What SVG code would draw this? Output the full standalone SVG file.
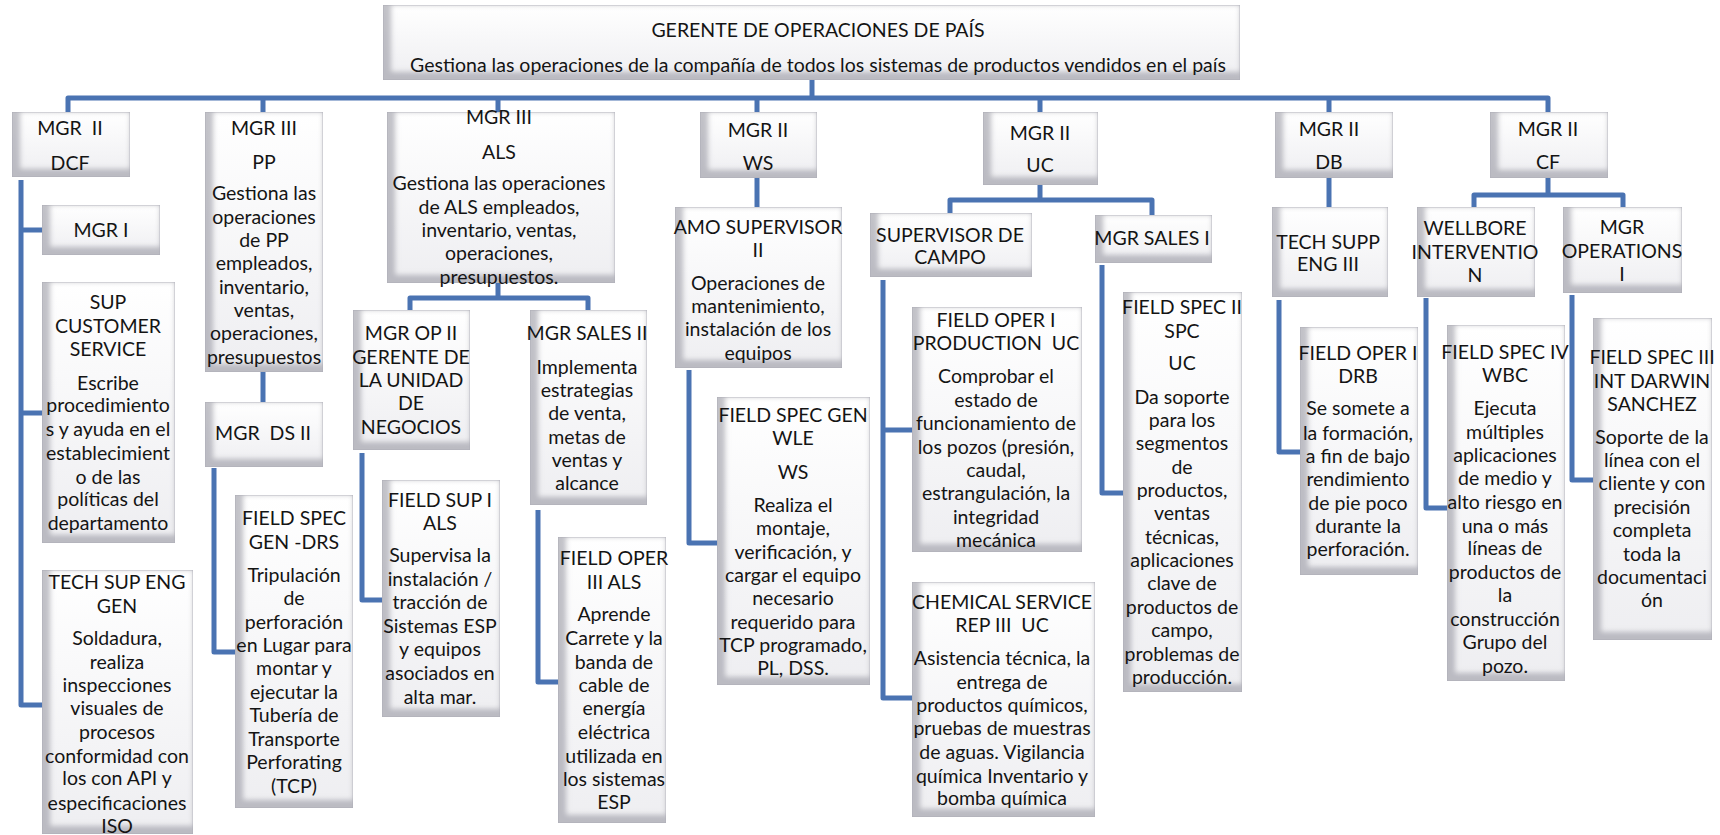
<svg xmlns="http://www.w3.org/2000/svg" width="1720" height="835" viewBox="0 0 1720 835">
  <defs>
    <linearGradient id="face" x1="0" y1="0" x2="0" y2="1">
      <stop offset="0" stop-color="#ffffff"/>
      <stop offset="1" stop-color="#eeeef1"/>
    </linearGradient>
    <!-- soft bevel: grey shading along the left and bottom inner edges -->
    <filter id="bevel" x="0" y="0" width="1" height="1">
      <feOffset in="SourceAlpha" dx="9" dy="-9" result="shift"/>
      <feGaussianBlur in="shift" stdDeviation="2.5" result="soft"/>
      <feComposite in="SourceAlpha" in2="soft" operator="out" result="edge"/>
      <feFlood flood-color="#9d9da8" flood-opacity="0.7"/>
      <feComposite in2="edge" operator="in" result="shade"/>
      <feMerge>
        <feMergeNode in="SourceGraphic"/>
        <feMergeNode in="shade"/>
      </feMerge>
    </filter>
    <style>
      .box { fill: url(#face); stroke: #d2d2d8; stroke-width: 1.2; filter: url(#bevel); }
      .lbl { font-family: Lato, "Liberation Sans", sans-serif; font-size: 19.5px; fill: #141414; text-anchor: middle; }
      .wire { fill: none; stroke: #4a73b2; stroke-width: 5; stroke-linejoin: round; }
    </style>
  </defs>

  <rect width="1720" height="835" fill="#ffffff"/>

  <g id="connectors">
    <path class="wire" d="M812 80V98"/>
    <path class="wire" d="M68 112V98H1548V112"/>
    <path class="wire" d="M263 98V112M498 98V112M757 98V112M1040 98V112M1329 98V112"/>
    <path class="wire" d="M21 180V705H42M21 230H42M21 413H42"/>
    <path class="wire" d="M263 372V402"/>
    <path class="wire" d="M214 468V652H235"/>
    <path class="wire" d="M498 283V298M410 310V298H588V310"/>
    <path class="wire" d="M362 453V600H382"/>
    <path class="wire" d="M538 510V682H558"/>
    <path class="wire" d="M757 178V207"/>
    <path class="wire" d="M689 370V543H717"/>
    <path class="wire" d="M1040 185V200M950 213V200H1152V215"/>
    <path class="wire" d="M883 280V698H912M883 430H912"/>
    <path class="wire" d="M1102 265V493H1123"/>
    <path class="wire" d="M1329 178V207"/>
    <path class="wire" d="M1279 300V452H1300"/>
    <path class="wire" d="M1548 178V195M1474 207V195H1623V207"/>
    <path class="wire" d="M1426 298V508H1447"/>
    <path class="wire" d="M1572 295V480H1593"/>
  </g>

  <g id="nodes">
    <g id="n-country">
      <rect class="box" x="383" y="5" width="857" height="75"/>
      <text class="lbl"><tspan x="818" y="37">GERENTE DE OPERACIONES DE PAÍS</tspan><tspan x="818" y="72">Gestiona las operaciones de la compañía de todos los sistemas de productos vendidos en el país</tspan></text>
    </g>

    <g id="n-dcf">
      <rect class="box" x="12" y="112" width="118" height="65"/>
      <text class="lbl"><tspan x="70" y="135">MGR&#160; II</tspan><tspan x="70" y="170">DCF</tspan></text>
    </g>
    <g id="n-mgr1">
      <rect class="box" x="42" y="205" width="118" height="50"/>
      <text class="lbl"><tspan x="101" y="237">MGR I</tspan></text>
    </g>
    <g id="n-supcs">
      <rect class="box" x="42" y="282" width="133" height="261"/>
      <text class="lbl"><tspan x="108" y="309">SUP</tspan><tspan x="108" y="333">CUSTOMER</tspan><tspan x="108" y="356">SERVICE</tspan><tspan x="108" y="390">Escribe</tspan><tspan x="108" y="412">procedimiento</tspan><tspan x="108" y="436">s y ayuda en el</tspan><tspan x="108" y="460">establecimient</tspan><tspan x="108" y="484">o de las</tspan><tspan x="108" y="506">políticas del</tspan><tspan x="108" y="530">departamento</tspan></text>
    </g>
    <g id="n-techsup">
      <rect class="box" x="42" y="570" width="151" height="264"/>
      <text class="lbl"><tspan x="117" y="589">TECH SUP ENG</tspan><tspan x="117" y="613">GEN</tspan><tspan x="117" y="645">Soldadura,</tspan><tspan x="117" y="669">realiza</tspan><tspan x="117" y="692">inspecciones</tspan><tspan x="117" y="715">visuales de</tspan><tspan x="117" y="739">procesos</tspan><tspan x="117" y="763">conformidad con</tspan><tspan x="117" y="785">los con API y</tspan><tspan x="117" y="810">especificaciones</tspan><tspan x="117" y="833">ISO</tspan></text>
    </g>

    <g id="n-pp">
      <rect class="box" x="205" y="112" width="118" height="260"/>
      <text class="lbl"><tspan x="264" y="135">MGR III</tspan><tspan x="264" y="169">PP</tspan><tspan x="264" y="200">Gestiona las</tspan><tspan x="264" y="224">operaciones</tspan><tspan x="264" y="247">de PP</tspan><tspan x="264" y="270">empleados,</tspan><tspan x="264" y="294">inventario,</tspan><tspan x="264" y="317">ventas,</tspan><tspan x="264" y="340">operaciones,</tspan><tspan x="264" y="364">presupuestos</tspan></text>
    </g>
    <g id="n-ds">
      <rect class="box" x="205" y="402" width="118" height="65"/>
      <text class="lbl"><tspan x="263" y="440">MGR&#160; DS II</tspan></text>
    </g>
    <g id="n-drs">
      <rect class="box" x="235" y="495" width="118" height="313"/>
      <text class="lbl"><tspan x="294" y="525">FIELD SPEC</tspan><tspan x="294" y="549">GEN -DRS</tspan><tspan x="294" y="582">Tripulación</tspan><tspan x="294" y="605">de</tspan><tspan x="294" y="629">perforación</tspan><tspan x="294" y="652">en Lugar para</tspan><tspan x="294" y="675">montar y</tspan><tspan x="294" y="699">ejecutar la</tspan><tspan x="294" y="722">Tubería de</tspan><tspan x="294" y="746">Transporte</tspan><tspan x="294" y="769">Perforating</tspan><tspan x="294" y="793">(TCP)</tspan></text>
    </g>

    <g id="n-als">
      <rect class="box" x="387" y="112" width="228" height="171"/>
      <text class="lbl"><tspan x="499" y="124">MGR III</tspan><tspan x="499" y="159">ALS</tspan><tspan x="499" y="190">Gestiona las operaciones</tspan><tspan x="499" y="214">de ALS empleados,</tspan><tspan x="499" y="237">inventario, ventas,</tspan><tspan x="499" y="260">operaciones,</tspan><tspan x="499" y="284">presupuestos.</tspan></text>
    </g>
    <g id="n-opii">
      <rect class="box" x="353" y="310" width="117" height="140"/>
      <text class="lbl"><tspan x="411" y="340">MGR OP II</tspan><tspan x="411" y="364">GERENTE DE</tspan><tspan x="411" y="387">LA UNIDAD</tspan><tspan x="411" y="410">DE</tspan><tspan x="411" y="434">NEGOCIOS</tspan></text>
    </g>
    <g id="n-salesii">
      <rect class="box" x="530" y="310" width="117" height="195"/>
      <text class="lbl"><tspan x="587" y="340">MGR SALES II</tspan><tspan x="587" y="374">Implementa</tspan><tspan x="587" y="397">estrategias</tspan><tspan x="587" y="420">de venta,</tspan><tspan x="587" y="444">metas de</tspan><tspan x="587" y="467">ventas y</tspan><tspan x="587" y="490">alcance</tspan></text>
    </g>
    <g id="n-fsup">
      <rect class="box" x="382" y="480" width="118" height="237"/>
      <text class="lbl"><tspan x="440" y="507">FIELD SUP I</tspan><tspan x="440" y="530">ALS</tspan><tspan x="440" y="562">Supervisa la</tspan><tspan x="440" y="586">instalación /</tspan><tspan x="440" y="609">tracción de</tspan><tspan x="440" y="633">Sistemas ESP</tspan><tspan x="440" y="656">y equipos</tspan><tspan x="440" y="680">asociados en</tspan><tspan x="440" y="704">alta mar.</tspan></text>
    </g>
    <g id="n-foper3">
      <rect class="box" x="558" y="537" width="108" height="286"/>
      <text class="lbl"><tspan x="614" y="565">FIELD OPER</tspan><tspan x="614" y="589">III ALS</tspan><tspan x="614" y="621">Aprende</tspan><tspan x="614" y="645">Carrete y la</tspan><tspan x="614" y="669">banda de</tspan><tspan x="614" y="692">cable de</tspan><tspan x="614" y="715">energía</tspan><tspan x="614" y="739">eléctrica</tspan><tspan x="614" y="763">utilizada en</tspan><tspan x="614" y="786">los sistemas</tspan><tspan x="614" y="809">ESP</tspan></text>
    </g>

    <g id="n-ws">
      <rect class="box" x="700" y="112" width="117" height="66"/>
      <text class="lbl"><tspan x="758" y="137">MGR II</tspan><tspan x="758" y="170">WS</tspan></text>
    </g>
    <g id="n-amo">
      <rect class="box" x="675" y="207" width="167" height="161"/>
      <text class="lbl"><tspan x="758" y="234">AMO SUPERVISOR</tspan><tspan x="758" y="257">II</tspan><tspan x="758" y="290">Operaciones de</tspan><tspan x="758" y="313">mantenimiento,</tspan><tspan x="758" y="336">instalación de los</tspan><tspan x="758" y="360">equipos</tspan></text>
    </g>
    <g id="n-wle">
      <rect class="box" x="717" y="397" width="153" height="288"/>
      <text class="lbl"><tspan x="793" y="422">FIELD SPEC GEN</tspan><tspan x="793" y="445">WLE</tspan><tspan x="793" y="479">WS</tspan><tspan x="793" y="512">Realiza el</tspan><tspan x="793" y="535">montaje,</tspan><tspan x="793" y="559">verificación, y</tspan><tspan x="793" y="582">cargar el equipo</tspan><tspan x="793" y="605">necesario</tspan><tspan x="793" y="629">requerido para</tspan><tspan x="793" y="652">TCP programado,</tspan><tspan x="793" y="675">PL, DSS.</tspan></text>
    </g>

    <g id="n-uc">
      <rect class="box" x="983" y="112" width="115" height="73"/>
      <text class="lbl"><tspan x="1040" y="140">MGR II</tspan><tspan x="1040" y="172">UC</tspan></text>
    </g>
    <g id="n-campo">
      <rect class="box" x="870" y="213" width="162" height="64"/>
      <text class="lbl"><tspan x="950" y="242">SUPERVISOR DE</tspan><tspan x="950" y="264">CAMPO</tspan></text>
    </g>
    <g id="n-sales1">
      <rect class="box" x="1095" y="215" width="117" height="48"/>
      <text class="lbl"><tspan x="1152" y="245">MGR SALES I</tspan></text>
    </g>
    <g id="n-foper1">
      <rect class="box" x="912" y="307" width="170" height="245"/>
      <text class="lbl"><tspan x="996" y="327">FIELD OPER I</tspan><tspan x="996" y="350">PRODUCTION&#160; UC</tspan><tspan x="996" y="383">Comprobar el</tspan><tspan x="996" y="407">estado de</tspan><tspan x="996" y="430">funcionamiento de</tspan><tspan x="996" y="454">los pozos (presión,</tspan><tspan x="996" y="477">caudal,</tspan><tspan x="996" y="500">estrangulación, la</tspan><tspan x="996" y="524">integridad</tspan><tspan x="996" y="547">mecánica</tspan></text>
    </g>
    <g id="n-chem">
      <rect class="box" x="912" y="582" width="183" height="235"/>
      <text class="lbl"><tspan x="1002" y="609">CHEMICAL SERVICE</tspan><tspan x="1002" y="632">REP III&#160; UC</tspan><tspan x="1002" y="665">Asistencia técnica, la</tspan><tspan x="1002" y="689">entrega de</tspan><tspan x="1002" y="712">productos químicos,</tspan><tspan x="1002" y="735">pruebas de muestras</tspan><tspan x="1002" y="759">de aguas. Vigilancia</tspan><tspan x="1002" y="783">química Inventario y</tspan><tspan x="1002" y="805">bomba química</tspan></text>
    </g>
    <g id="n-spc">
      <rect class="box" x="1123" y="292" width="119" height="400"/>
      <text class="lbl"><tspan x="1182" y="314">FIELD SPEC II</tspan><tspan x="1182" y="338">SPC</tspan><tspan x="1182" y="370">UC</tspan><tspan x="1182" y="404">Da soporte</tspan><tspan x="1182" y="427">para los</tspan><tspan x="1182" y="450">segmentos</tspan><tspan x="1182" y="474">de</tspan><tspan x="1182" y="497">productos,</tspan><tspan x="1182" y="520">ventas</tspan><tspan x="1182" y="544">técnicas,</tspan><tspan x="1182" y="567">aplicaciones</tspan><tspan x="1182" y="590">clave de</tspan><tspan x="1182" y="614">productos de</tspan><tspan x="1182" y="637">campo,</tspan><tspan x="1182" y="661">problemas de</tspan><tspan x="1182" y="684">producción.</tspan></text>
    </g>

    <g id="n-db">
      <rect class="box" x="1275" y="112" width="118" height="66"/>
      <text class="lbl"><tspan x="1329" y="136">MGR II</tspan><tspan x="1329" y="169">DB</tspan></text>
    </g>
    <g id="n-techsupp">
      <rect class="box" x="1272" y="207" width="116" height="90"/>
      <text class="lbl"><tspan x="1328" y="249">TECH SUPP</tspan><tspan x="1328" y="271">ENG III</tspan></text>
    </g>
    <g id="n-drb">
      <rect class="box" x="1300" y="327" width="118" height="248"/>
      <text class="lbl"><tspan x="1358" y="360">FIELD OPER I</tspan><tspan x="1358" y="383">DRB</tspan><tspan x="1358" y="415">Se somete a</tspan><tspan x="1358" y="440">la formación,</tspan><tspan x="1358" y="463">a fin de bajo</tspan><tspan x="1358" y="486">rendimiento</tspan><tspan x="1358" y="510">de pie poco</tspan><tspan x="1358" y="533">durante la</tspan><tspan x="1358" y="556">perforación.</tspan></text>
    </g>

    <g id="n-cf">
      <rect class="box" x="1490" y="112" width="118" height="66"/>
      <text class="lbl"><tspan x="1548" y="136">MGR II</tspan><tspan x="1548" y="169">CF</tspan></text>
    </g>
    <g id="n-wellbore">
      <rect class="box" x="1417" y="207" width="118" height="90"/>
      <text class="lbl"><tspan x="1475" y="235">WELLBORE</tspan><tspan x="1475" y="259">INTERVENTIO</tspan><tspan x="1475" y="282">N</tspan></text>
    </g>
    <g id="n-mgrops">
      <rect class="box" x="1563" y="207" width="119" height="86"/>
      <text class="lbl"><tspan x="1622" y="234">MGR</tspan><tspan x="1622" y="258">OPERATIONS</tspan><tspan x="1622" y="281">I</tspan></text>
    </g>
    <g id="n-wbc">
      <rect class="box" x="1447" y="325" width="118" height="356"/>
      <text class="lbl"><tspan x="1505" y="359">FIELD SPEC IV</tspan><tspan x="1505" y="382">WBC</tspan><tspan x="1505" y="415">Ejecuta</tspan><tspan x="1505" y="439">múltiples</tspan><tspan x="1505" y="462">aplicaciones</tspan><tspan x="1505" y="485">de medio y</tspan><tspan x="1505" y="509">alto riesgo en</tspan><tspan x="1505" y="533">una o más</tspan><tspan x="1505" y="555">líneas de</tspan><tspan x="1505" y="579">productos de</tspan><tspan x="1505" y="602">la</tspan><tspan x="1505" y="626">construcción</tspan><tspan x="1505" y="649">Grupo del</tspan><tspan x="1505" y="673">pozo.</tspan></text>
    </g>
    <g id="n-darwin">
      <rect class="box" x="1593" y="318" width="119" height="322"/>
      <text class="lbl"><tspan x="1652" y="364">FIELD SPEC III</tspan><tspan x="1652" y="388">INT DARWIN</tspan><tspan x="1652" y="411">SANCHEZ</tspan><tspan x="1652" y="444">Soporte de la</tspan><tspan x="1652" y="467">línea con el</tspan><tspan x="1652" y="490">cliente y con</tspan><tspan x="1652" y="514">precisión</tspan><tspan x="1652" y="537">completa</tspan><tspan x="1652" y="561">toda la</tspan><tspan x="1652" y="584">documentaci</tspan><tspan x="1652" y="607">ón</tspan></text>
    </g>
  </g>
</svg>
